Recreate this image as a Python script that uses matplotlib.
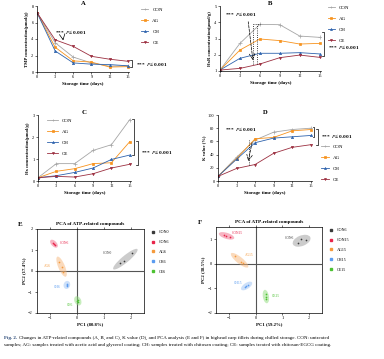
import numpy as np
import matplotlib.pyplot as plt
from matplotlib.patches import Ellipse
from matplotlib.lines import Line2D

plt.rcParams['font.family'] = ['Liberation Serif', 'DejaVu Serif']
plt.rcParams['mathtext.fontset'] = 'stix'

days = [0, 3, 6, 9, 12, 15]
groups = ['CON', 'AG', 'CH', 'CE']
colors = {'CON': '#a6a6a6', 'AG': '#f7931e', 'CH': '#2e63ad', 'CE': '#9c2f40'}
markers = {'CON': '+', 'AG': 's', 'CH': '^', 'CE': 'v'}

tmp_con = [7.2, 3.55, 1.8, 1.1, 0.7, 0.75]
tmp_ag = [7.2, 3.0, 1.35, 1.2, 0.6, 0.65]
tmp_ch = [7.2, 2.55, 1.1, 0.95, 0.9, 0.75]
tmp_ce = [7.2, 3.9, 3.1, 1.9, 1.55, 1.3]

hxr_con = [1.06, 2.7, 3.87, 3.85, 3.15, 3.07]
hxr_ag = [1.06, 2.29, 2.97, 2.87, 2.66, 2.7]
hxr_ch = [1.06, 1.78, 2.09, 2.09, 2.13, 2.05]
hxr_ce = [1.06, 1.16, 1.43, 1.82, 1.98, 1.84]

hx_con = [0.15, 0.79, 0.79, 1.39, 1.65, 2.79]
hx_ag = [0.15, 0.44, 0.56, 0.79, 0.83, 1.79]
hx_ch = [0.15, 0.24, 0.39, 0.59, 0.98, 1.18]
hx_ce = [0.15, 0.21, 0.18, 0.33, 0.59, 0.76]

k_con = [7, 36, 62, 74, 78, 80]
k_ag = [7, 34, 64, 66, 76, 78]
k_ch = [7, 33, 58, 65, 67, 69]
k_ce = [7, 19, 25, 42, 51, 55]

# PCA scores (3 replicates per sample)
pca_e_labels = ['CON0', 'CON6', 'AG6', 'CH6', 'CE6']
pca_e_x = [[1.6, 1.75, 2.07], [-0.88, -0.82, -0.85], [-0.65, -0.55, -0.5],
           [-0.37, -0.38, -0.36], [0.02, 0.06, 0.03]]
pca_e_y = [[0.37, 0.46, 0.86], [1.35, 1.25, 1.3], [0.45, 0.2, -0.03],
           [-0.62, -0.71, -0.66], [-1.41, -1.49, -1.36]]
pca_f_labels = ['CON6', 'CON15', 'AG15', 'CH15', 'CE15']
pca_f_x = [[1.6, 1.69, 1.88], [-1.19, -1.12, -0.97], [-0.77, -0.56, -0.48],
           [-0.4, -0.27, -0.35], [0.37, 0.4, 0.38]]
pca_f_y = [[0.84, 1.01, 0.97], [1.18, 1.14, 1.1], [0.3, 0.09, 0.05],
           [-0.95, -0.85, -0.9], [-1.23, -1.43, -1.33]]
pca_colors = ['#3a3a3a', '#e8254b', '#f59a3c', '#5b9cf0', '#4cc232']
ell_colors = ['#9a9a9a', '#f06a86', '#f7b67a', '#9cc2f5', '#8fdc7a']

fig = plt.figure(figsize=(3.84, 3.59), dpi=100)
W, H = 384, 359


def add_ax(l, t, r, b):
    return fig.add_axes([l / W, 1 - b / H, (r - l) / W, (b - t) / H])


def style(ax, ylabel, ylim, yticks, title):
    ax.set_xlim(0, 15.2)
    ax.set_xticks(days)
    ax.set_ylim(*ylim)
    ax.set_yticks(yticks)
    for s in ['top', 'right']:
        ax.spines[s].set_visible(False)
    for s in ['left', 'bottom']:
        ax.spines[s].set_linewidth(0.5)
    ax.tick_params(labelsize=3.2, width=0.4, length=1.5, pad=1)
    ax.set_xlabel('Storage time (days)', fontsize=3.6, fontweight='bold', labelpad=1.5)
    ax.set_ylabel(ylabel, fontsize=3.3, fontweight='bold', labelpad=1.5)
    ax.text(0.5, 1.0, title, transform=ax.transAxes, fontsize=4.8, fontweight='bold',
            ha='center', va='bottom')


def lines(ax, series):
    for g, vals in zip(groups, series):
        ax.plot(days, vals, color=colors[g], marker=markers[g], lw=0.6,
                ms=1.6 if g != 'CON' else 2.2, mew=0.5, label=g)


def bracket(ax, x, y0, y1, w=0.3):
    ax.plot([x - w, x, x, x - w], [y0, y0, y1, y1], color='black', lw=0.5, clip_on=False)


def ptext(ax, x, y):
    ax.text(x, y, r'***  $P$≤ 0.001', fontsize=3.8, fontweight='bold',
            va='center', ha='left', clip_on=False)


def legend(ax, anchor, loc='upper left', hl=1.5):
    ax.legend(loc=loc, bbox_to_anchor=anchor, fontsize=3.6, frameon=False,
              handlelength=hl, labelspacing=1.3, markerscale=0.9)


# A
axA = add_ax(37, 6, 129, 72)
lines(axA, [tmp_con, tmp_ag, tmp_ch, tmp_ce])
style(axA, 'TMP concentration(μmol/g)', (0, 8), [0, 2, 4, 6, 8], 'A')
legend(axA, (1.08, 1.05))
ptext(axA, 2.9, 4.85)
axA.annotate('', xy=(4.4, 3.5), xytext=(4.2, 4.4),
             arrowprops=dict(arrowstyle='->', lw=0.5, color='black'))
bracket(axA, 15.7, 1.45, 0.6)
ptext(axA, 16.3, 0.95)

# B
axB = add_ax(220, 6, 321, 71)
lines(axB, [hxr_con, hxr_ag, hxr_ch, hxr_ce])
style(axB, 'HxR concentration(μmol/g)', (1, 5), [1, 2, 3, 4, 5], 'B')
legend(axB, (1.02, 1.08))
ptext(axB, 0.8, 4.5)
axB.annotate('', xy=(5.0, 1.5), xytext=(4.2, 4.2),
             arrowprops=dict(arrowstyle='->', lw=0.5, color='black', ls='--'))
axB.plot([4.9, 4.9], [1.45, 3.9], ls=':', lw=0.6, color='black')
axB.plot([5.5, 5.5], [1.45, 3.9], ls=':', lw=0.6, color='black')
axB.plot([4.9, 6.0], [3.9, 3.9], ls=':', lw=0.6, color='black')
bracket(axB, 15.6, 3.4, 1.9)
ptext(axB, 16.2, 2.5)

# C
axC = add_ax(38, 115, 131, 181)
lines(axC, [hx_con, hx_ag, hx_ch, hx_ce])
style(axC, 'Hx concentration(μmol/g)', (0, 3), [0, 1, 2, 3], 'C')
legend(axC, (0.05, 1.02), hl=2.2)
bracket(axC, 15.7, 2.8, 1.2)
bracket(axC, 16.3, 1.8, 0.75)
ptext(axC, 16.8, 1.3)

# D
axD = add_ax(218, 115, 312, 181)
lines(axD, [k_con, k_ag, k_ch, k_ce])
style(axD, 'K value (%)', (0, 100), [0, 20, 40, 60, 80, 100], 'D')
legend(axD, (1.05, -0.08), loc='lower left')
ptext(axD, 1.1, 79)
axD.annotate('', xy=(4.8, 26), xytext=(5.6, 62),
             arrowprops=dict(arrowstyle='->', lw=0.5, color='black', ls='--'))
axD.plot([5.0, 5.0], [25, 62], ls=':', lw=0.6, color='black')
bracket(axD, 15.6, 82, 67)
bracket(axD, 16.2, 79, 55)
ptext(axD, 16.6, 68)


def ellipse(ax, xs, ys, color):
    xs, ys = np.array(xs), np.array(ys)
    cov = np.cov(xs, ys)
    vals, vecs = np.linalg.eigh(cov)
    ang = np.degrees(np.arctan2(vecs[1, 1], vecs[0, 1]))
    w = 2 * 1.5 * np.sqrt(vals[1]) + 0.25
    h = 2 * 1.5 * np.sqrt(max(vals[0], 0)) + 0.22
    ax.add_patch(Ellipse((xs.mean(), ys.mean()), w, h, angle=ang,
                         facecolor=color, edgecolor='none', alpha=0.5, zorder=1))


def pca_panel(ax, labels, px, py, letter, xlab, ylab, ylim, label_pos):
    for i, lab in enumerate(labels):
        ellipse(ax, px[i], py[i], ell_colors[i])
        ax.scatter(px[i], py[i], s=1.5, color=pca_colors[i], zorder=3, lw=0)
        tx, ty, ha = label_pos[i]
        ax.text(tx, ty, lab, fontsize=2.6, color=pca_colors[i], ha=ha, va='center')
    ax.axhline(0, color='#555555', lw=0.8, zorder=0)
    ax.axvline(0, color='#555555', lw=0.8, zorder=0)
    ax.set_xlim(-1.5, 2.5)
    ax.set_ylim(*ylim)
    ax.set_xticks([-1, 0, 1, 2])
    ax.set_yticks([-2, -1, 0, 1, 2] if ylim[1] >= 2 else [-2, -1, 0, 1])
    for s in ax.spines.values():
        s.set_linewidth(0.5)
    ax.tick_params(labelsize=3.2, width=0.4, length=1.5, pad=1, top=True)
    ax.set_xlabel(xlab, fontsize=3.4, fontweight='bold', labelpad=1.5)
    ax.set_ylabel(ylab, fontsize=3.4, fontweight='bold', labelpad=1.5)
    ax.set_title('PCA of ATP-related compounds', fontsize=3.6, fontweight='bold', pad=3)
    ax.text(-0.17, 1.04, letter, transform=ax.transAxes, fontsize=5, fontweight='bold')
    handles = [Line2D([], [], ls='none', marker='s', ms=1.5, color=c) for c in pca_colors]
    ax.legend(handles, labels, loc='upper left', bbox_to_anchor=(1.03, 1.03), fontsize=3.0,
              frameon=False, handlelength=1.0, labelspacing=1.4)


axE = add_ax(36.5, 229, 144, 313)
pca_panel(axE, pca_e_labels, pca_e_x, pca_e_y, 'E', 'PC1 (80.8%)', 'PC2 (17.4%)', (-2, 2),
          [(1.3, 0.86, 'right'), (-0.64, 1.33, 'left'), (-0.95, 0.22, 'right'),
           (-0.6, -0.75, 'right'), (-0.15, -1.62, 'right')])

axF = add_ax(215.7, 227, 322.3, 313)
pca_panel(axF, pca_f_labels, pca_f_x, pca_f_y, 'F', 'PC1 (59.2%)', 'PC2 (38.5%)', (-2, 1.5),
          [(1.45, 1.07, 'right'), (-0.9, 1.27, 'left'), (-0.4, 0.35, 'left'),
           (-0.5, -0.78, 'right'), (0.62, -1.3, 'left')])

caption1 = ('Changes in ATP-related compounds (A, B, and C), K value (D), and PCA analysis '
            '(E and F) in bighead carp fillets during chilled storage. CON: untreated')
caption2 = ('samples; AG: samples treated with acetic acid and glycerol coating; CH: samples '
            'treated with chitosan coating; CE: samples treated with chitosan-EGCG coating.')
fig.text(4 / W, 1 - 338 / H, 'Fig. 2.', fontsize=3.6, fontweight='bold', color='#1f3f6f', va='center')
fig.text(19 / W, 1 - 338 / H, caption1, fontsize=3.6, va='center')
fig.text(4 / W, 1 - 345 / H, caption2, fontsize=3.6, va='center')

fig.savefig('out.png', dpi=100)
